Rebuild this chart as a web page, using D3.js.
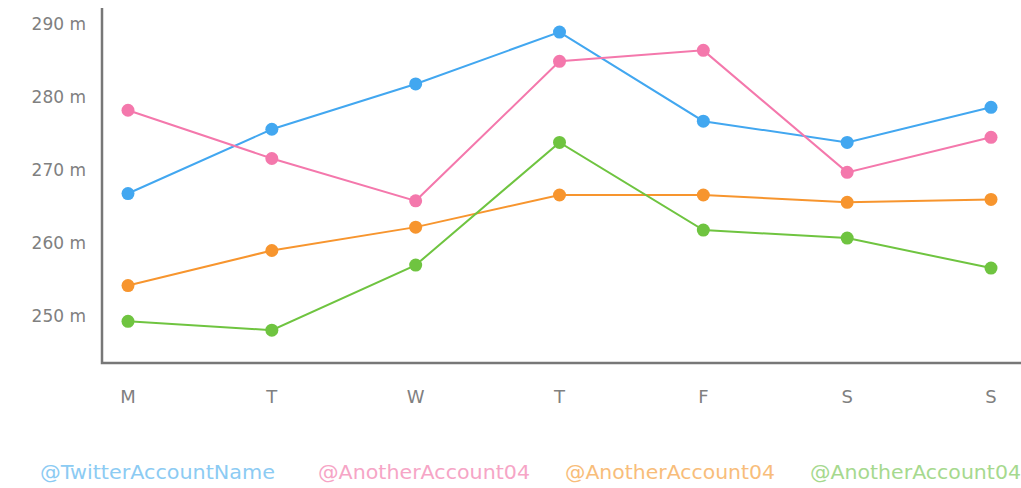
<!DOCTYPE html>
<html lang="en">
<head>
    <meta charset="UTF-8">
    <script type="text/javascript" src="https://d3js.org/d3.v7.min.js"></script>
    <title>Accounts</title>
    <style>
        body { margin: 0; background: #fff; }
    </style>
</head>
<body>
    <svg id="plot"></svg>
    <script type="text/javascript">
    const days = ["M", "T", "W", "T", "F", "S", "S"];
    const yTicks = [250, 260, 270, 280, 290];
    const accounts = ["@TwitterAccountName", "@AnotherAccount04", "@AnotherAccount04", "@AnotherAccount04"];
    const blueVals = [266.8, 275.6, 281.8, 288.9, 276.7, 273.8, 278.6];
    const pinkVals = [278.2, 271.6, 265.8, 284.9, 286.4, 269.7, 274.5];
    const orangeVals = [254.2, 259.0, 262.2, 266.6, 266.6, 265.6, 266.0];
    const greenVals = [249.3, 248.1, 257.0, 273.8, 261.8, 260.7, 256.6];
    const colors = ["#42a7f0", "#f478ac", "#f7952e", "#6fc440"];
    const legendColors = ["#8ccbf3", "#f6a5c6", "#f8bd7a", "#a6d98e"];

    const width = 1021, height = 488;
    const margin = {top: 8, right: 0, bottom: 125, left: 102};
    const svg = d3.select("#plot").attr("width", width).attr("height", height);

    const x = d3.scalePoint()
        .domain(d3.range(days.length))
        .range([128, 991]);
    const y = d3.scaleLinear()
        .domain([243.6, 292.2])
        .range([height - margin.bottom, margin.top]);

    // y axis labels
    svg.append("g").selectAll("text").data(yTicks).enter().append("text")
        .attr("x", 86).attr("y", d => y(d)).attr("dy", "0.35em")
        .attr("text-anchor", "end")
        .attr("font-family", "DejaVu Sans, sans-serif").attr("font-size", 17)
        .attr("fill", "#808080")
        .text(d => d + " m");

    // x labels
    svg.append("g").selectAll("text").data(days).enter().append("text")
        .attr("x", (d, i) => x(i)).attr("y", 403)
        .attr("text-anchor", "middle")
        .attr("font-family", "DejaVu Sans, sans-serif").attr("font-size", 18)
        .attr("fill", "#808080")
        .text(d => d);

    // axis lines
    const axisY = height - margin.bottom;
    svg.append("path")
        .attr("d", `M${margin.left},${margin.top}V${axisY}H${width - margin.right}`)
        .attr("fill", "none").attr("stroke", "#777").attr("stroke-width", 2.5);

    const series = [blueVals, pinkVals, orangeVals, greenVals];
    const line = d3.line().x((d, i) => x(i)).y(d => y(d));

    series.forEach((vals, s) => {
        const g = svg.append("g");
        g.append("path").attr("d", line(vals))
            .attr("fill", "none").attr("stroke", colors[s]).attr("stroke-width", 2);
        g.selectAll("circle").data(vals).enter().append("circle")
            .attr("cx", (d, i) => x(i)).attr("cy", d => y(d)).attr("r", 6.5)
            .attr("fill", colors[s]);
    });

    // legend
    const legendX = [40, 318, 565, 810];
    const legendW = [235, 212, 210, 211];
    svg.append("g").selectAll("text").data(accounts).enter().append("text")
        .attr("x", (d, i) => legendX[i]).attr("y", 479)
        .attr("font-family", "DejaVu Sans, sans-serif").attr("font-size", 19)
        .attr("fill", (d, i) => legendColors[i])
        .attr("textLength", (d, i) => legendW[i]).attr("lengthAdjust", "spacingAndGlyphs")
        .text(d => d);
    </script>
</body>
</html>
